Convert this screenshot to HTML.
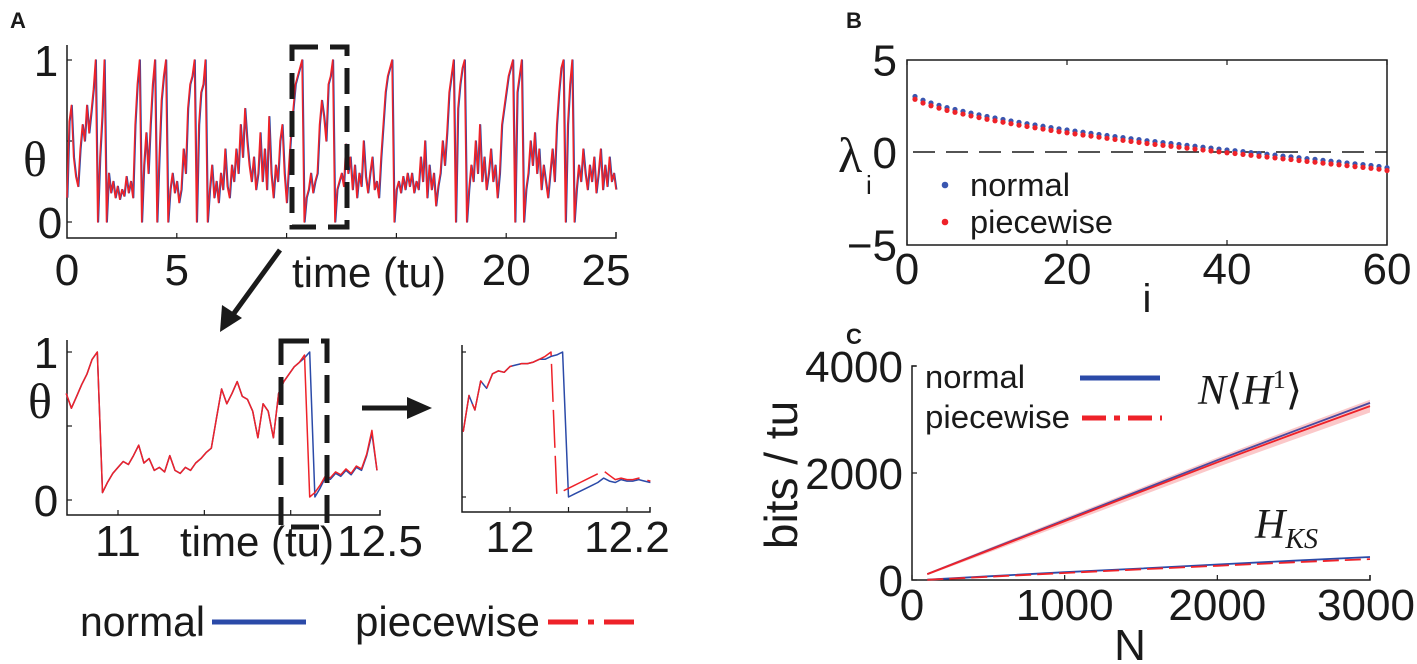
<!DOCTYPE html>
<html><head><meta charset="utf-8"><style>
html,body{margin:0;padding:0;background:#fff}
svg{display:block}
text{font-family:"Liberation Sans",sans-serif;fill:#1a1a1a}
.serif{font-family:"Liberation Serif",serif}
</style></head><body>
<svg id="fig" width="1417" height="664" viewBox="0 0 1417 664"></svg>
<script>
// ---------- DATA ----------
const thetaTop = [0.15,0.62,0.72,0.4,0.28,0.22,0.45,0.6,0.5,0.72,0.55,0.68,0.82,1.0,0.0,0.4,0.65,1.0,0.0,0.3,
0.18,0.25,0.15,0.22,0.14,0.2,0.16,0.28,0.18,0.25,0.15,0.6,0.85,1.0,0.0,0.35,0.55,0.3,0.6,0.85,
1.0,0.0,0.4,0.75,0.9,1.0,0.0,0.2,0.3,0.18,0.25,0.12,0.2,0.45,0.3,0.7,0.85,0.9,1.0,0.0,
0.6,0.8,0.85,1.0,0.0,0.2,0.35,0.15,0.25,0.12,0.3,0.2,0.45,0.22,0.15,0.35,0.25,0.45,0.3,0.6,
0.4,0.7,0.5,0.35,0.25,0.4,0.2,0.3,0.55,0.25,0.45,0.2,0.65,0.3,0.15,0.35,0.25,0.5,0.6,0.3,
0.12,0.35,0.55,0.7,0.85,0.9,0.95,1.0,0.0,0.15,0.2,0.3,0.18,0.25,0.3,0.6,0.75,0.65,0.5,0.85,
0.9,1.0,0.0,0.2,0.25,0.3,0.22,0.48,0.3,0.4,0.2,0.35,0.15,0.3,0.22,0.5,0.28,0.18,0.3,0.4,
0.2,0.25,0.15,0.4,0.6,0.8,0.9,0.95,1.0,0.0,0.2,0.25,0.18,0.28,0.2,0.3,0.22,0.3,0.18,0.25,
0.2,0.4,0.25,0.5,0.15,0.35,0.2,0.3,0.1,0.22,0.3,0.5,0.35,0.55,0.8,0.9,1.0,0.0,0.7,0.85,
0.95,1.0,0.0,0.2,0.35,0.25,0.5,0.3,0.6,0.25,0.4,0.2,0.3,0.45,0.25,0.35,0.15,0.3,0.6,0.7,
0.8,0.9,0.95,1.0,0.0,0.8,0.9,1.0,0.0,0.2,0.3,0.5,0.35,0.55,0.3,0.45,0.2,0.35,0.25,0.15,
0.3,0.45,0.25,0.6,0.8,0.95,1.0,0.0,0.6,0.85,1.0,0.0,0.2,0.35,0.25,0.45,0.3,0.2,0.35,0.25,
0.4,0.18,0.3,0.45,0.2,0.35,0.22,0.4,0.25,0.3,0.2];
const topT0 = 0, topDt = 0.1;

const zoomT0 = 10.70, zoomDt = 0.03;
const zoomBlue = [0.72,0.62,0.7,0.78,0.85,0.95,1.0,0.05,0.12,0.18,0.22,0.26,0.24,0.3,0.37,0.25,0.28,0.2,0.22,0.19,
0.3,0.2,0.18,0.22,0.2,0.25,0.28,0.32,0.35,0.55,0.75,0.65,0.72,0.8,0.7,0.68,0.6,0.42,0.65,0.6,
0.42,0.72,0.8,0.85,0.9,0.93,0.96,1.0,0.02,0.08,0.15,0.14,0.18,0.16,0.2,0.17,0.22,0.2,0.3,0.45,0.2];
const zoomRed = [0.72,0.62,0.7,0.78,0.85,0.95,1.0,0.05,0.12,0.18,0.22,0.26,0.24,0.3,0.37,0.25,0.28,0.2,0.22,0.19,
0.3,0.2,0.18,0.22,0.2,0.25,0.28,0.32,0.35,0.55,0.75,0.65,0.72,0.8,0.7,0.68,0.6,0.42,0.65,0.6,
0.42,0.72,0.8,0.85,0.9,0.93,0.98,0.02,0.05,0.1,0.16,0.15,0.19,0.17,0.21,0.18,0.23,0.21,0.31,0.47,0.2];

const insetT0 = 11.92, insetDt = 0.01;
const insetBlue = [0.45,0.7,0.6,0.8,0.75,0.85,0.87,0.86,0.9,0.91,0.92,0.92,0.93,0.95,0.95,0.97,0.98,1.0,0.0,0.02,
0.04,0.06,0.08,0.1,0.13,0.11,0.1,0.12,0.11,0.11,0.12,0.11,0.1];
const insetRed = [0.45,0.7,0.6,0.8,0.75,0.85,0.87,0.86,0.9,0.91,0.92,0.92,0.93,0.95,0.97,1.0,0.02,0.04,0.06,0.08,
0.1,0.12,0.14,0.16,0.18,0.15,0.12,0.13,0.12,0.12,0.13,0.12,0.11];

const lyapIdx = Array.from({length:60},(_,k)=>k+1);
const lyapNormal = [3.0,2.8,2.65,2.52,2.4,2.3,2.2,2.1,2.01,1.92,1.84,1.76,1.68,1.6,1.53,1.46,1.39,1.32,1.25,1.19,
1.13,1.07,1.01,0.95,0.89,0.83,0.78,0.72,0.67,0.61,0.56,0.51,0.46,0.41,0.36,0.31,0.26,0.21,0.16,0.11,
0.07,0.02,-0.03,-0.08,-0.12,-0.17,-0.22,-0.26,-0.31,-0.36,-0.4,-0.45,-0.5,-0.54,-0.59,-0.64,-0.68,-0.73,-0.78,-0.85];
const lyapPiece = [2.85,2.65,2.5,2.37,2.25,2.15,2.05,1.95,1.86,1.77,1.69,1.61,1.53,1.45,1.38,1.31,1.24,1.17,1.1,1.04,
0.98,0.92,0.86,0.8,0.74,0.68,0.63,0.57,0.52,0.46,0.41,0.36,0.31,0.26,0.21,0.16,0.11,0.06,0.01,-0.04,
-0.08,-0.13,-0.18,-0.23,-0.27,-0.32,-0.37,-0.41,-0.46,-0.51,-0.55,-0.6,-0.65,-0.69,-0.74,-0.79,-0.83,-0.88,-0.93,-1.0];

const Nvals = [100,500,1000,1500,2000,2500,3000];
const h1Normal = [110,560,1120,1680,2240,2780,3310];
const h1Piece = [110,550,1100,1650,2200,2730,3250];
const h1Err = [20,40,60,75,90,105,120];
const hksNormal = [5,70,145,215,290,360,430];
const hksPiece = [3,60,130,200,265,330,390];

const lyapTicksX = [0,20,40,60], lyapTicksY = [5,0,-5];
const cTicksX = [0,1000,2000,3000], cTicksY = [0,2000,4000];

// ---------- HELPERS ----------
const svg = document.getElementById('fig');
const NS = 'http://www.w3.org/2000/svg';
function el(tag, attrs, parent){
  const e = document.createElementNS(NS, tag);
  for (const k in attrs) e.setAttribute(k, attrs[k]);
  (parent||svg).appendChild(e);
  return e;
}
function txt(s, x, y, size, anchor, extra){
  const t = el('text', Object.assign({x:x, y:y, 'font-size':size, 'text-anchor':anchor||'middle'}, extra||{}));
  t.textContent = s;
  return t;
}
function fit(s, x1, x2, y, size, extra){
  return txt(s, x1, y, size, 'start', Object.assign({textLength:x2-x1, lengthAdjust:'spacingAndGlyphs'}, extra||{}));
}
function poly(xs, ys, stroke, w, dash){
  const pts = xs.map((x,i)=>x.toFixed(1)+','+ys[i].toFixed(1)).join(' ');
  const a = {points:pts, fill:'none', stroke:stroke, 'stroke-width':w, 'stroke-linejoin':'round'};
  if (dash) a['stroke-dasharray'] = dash;
  return el('polyline', a);
}
const BLUE = '#2b4aa8', RED = '#ee2229', INK = '#1a1a1a';
const TK = 44;

// ---------- PANEL A TOP ----------
txt('A', 10, 28, 22, 'start', {'font-weight':'bold'});
const ax = t => 67 + (t-0)*(616-67)/25;
const ay = v => 222 - v*162;
let l = el('path',{d:'M67,45 V238 H616 V232', fill:'none', stroke:INK, 'stroke-width':1.5});
 
[5,10,15,20].forEach(t=>{ el('line',{x1:ax(t),y1:238,x2:ax(t),y2:233,stroke:INK,'stroke-width':1.2}); });
el('line',{x1:67,y1:ay(1),x2:72,y2:ay(1),stroke:INK,'stroke-width':1.2});
el('line',{x1:67,y1:ay(0),x2:72,y2:ay(0),stroke:INK,'stroke-width':1.2});
el('line',{x1:67,y1:ay(0.5),x2:72,y2:ay(0.5),stroke:INK,'stroke-width':1.2});
txt('1', 46, ay(1)+16, TK); txt('0', 50, ay(0)+16, TK);
[[0,'0'],[5,'5'],[20,'20'],[25,'25']].forEach(([t,s])=>{ txt(s, ax(t)+(t===25?-10:0), 285, TK, 'middle'); });
txt('θ', 35, 176, 50, 'middle', {class:'serif'});
fit('time (tu)', 292, 446, 287, 42);
{
  const xs = thetaTop.map((v,i)=>ax(topT0+i*topDt)), ys = thetaTop.map(v=>ay(v));
  let p = poly(xs.map(x=>x+0.8), ys, BLUE, 1.3);  
  p = poly(xs, ys, RED, 1.5);  
}
l = el('rect',{x:292,y:47,width:55,height:180,fill:'none',stroke:INK,'stroke-width':5,'stroke-dasharray':'26,12'});
 
l = el('line',{x1:280,y1:250,x2:232,y2:316,stroke:INK,'stroke-width':5});
 
el('polygon',{points:'220,332 222,305 242,318',fill:INK});

// ---------- PANEL A BOTTOM-LEFT ----------
const bx = t => 118 + (t-11)*172.7;
const by = v => 500 - v*148;
l = el('path',{d:'M67,340 V515 H380 V510', fill:'none', stroke:INK, 'stroke-width':1.5});
 
[11,11.5,12].forEach(t=>el('line',{x1:bx(t),y1:515,x2:bx(t),y2:510,stroke:INK,'stroke-width':1.2}));
[1,0.5,0].forEach(v=>el('line',{x1:67,y1:by(v),x2:72,y2:by(v),stroke:INK,'stroke-width':1.2}));
txt('1', 46, by(1)+16, TK); txt('0', 46, by(0)+16, TK);
txt('11', bx(11), 556, TK); txt('12.5', 380, 556, TK);
txt('θ', 40, 418, 50, 'middle', {class:'serif'});
fit('time (tu)', 180, 334, 556, 42);
{
  const xs = zoomBlue.map((v,i)=>bx(zoomT0+i*zoomDt));
  let p = poly(xs, zoomBlue.map(by), BLUE, 1.5);  
  const xr = zoomRed.map((v,i)=>bx(zoomT0+i*zoomDt));
  p = poly(xr, zoomRed.map(by), RED, 1.5);  
}
l = el('rect',{x:281,y:341,width:46,height:186,fill:'none',stroke:INK,'stroke-width':5,'stroke-dasharray':'28,12'});
 
l = el('line',{x1:362,y1:408,x2:412,y2:408,stroke:INK,'stroke-width':5});
 
el('polygon',{points:'432,408 407,397 407,419',fill:INK});

// ---------- INSET ----------
const ix = t => 510 + (t-12)*585;
const iy = v => 497 - v*145;
l = el('path',{d:'M462,345 V512 H650 V507', fill:'none', stroke:INK, 'stroke-width':1.5});
 
[12,12.1,12.2].forEach(t=>el('line',{x1:ix(t),y1:512,x2:ix(t),y2:507,stroke:INK,'stroke-width':1.2}));
[1,0].forEach(v=>el('line',{x1:462,y1:iy(v),x2:466,y2:iy(v),stroke:INK,'stroke-width':1.2}));
txt('12', ix(12), 552, TK); txt('12.2', ix(12.2), 552, TK);
{
  let p = poly(insetBlue.map((v,i)=>ix(insetT0+i*insetDt)), insetBlue.map(iy), BLUE, 1.5);
   
  p = poly(insetRed.map((v,i)=>ix(insetT0+i*insetDt)), insetRed.map(iy), RED, 1.5, '38,8');
   
}

// ---------- LEGEND A ----------
let g = el('g',{});  
fit('normal', 80, 205, 636, 42);
el('line',{x1:212,y1:622,x2:306,y2:622,stroke:BLUE,'stroke-width':5},g);
fit('piecewise', 355, 540, 636, 42);
el('line',{x1:548,y1:622,x2:642,y2:622,stroke:RED,'stroke-width':5,'stroke-dasharray':'30,10,6,10'},g);

// ---------- PANEL B ----------
txt('B', 846, 28, 22, 'start', {'font-weight':'bold'});
const Bx = i => 907 + i*(1387-907)/60;
const By = v => 152 - v*18.5;
l = el('rect',{x:907,y:60,width:480,height:185,fill:'none',stroke:INK,'stroke-width':1.5});
 
lyapTicksX.forEach(t=>{ el('line',{x1:Bx(t),y1:245,x2:Bx(t),y2:240,stroke:INK,'stroke-width':1.2}); el('line',{x1:Bx(t),y1:60,x2:Bx(t),y2:65,stroke:INK,'stroke-width':1.2}); txt(String(t), Bx(t), 284, TK); });
lyapTicksY.forEach(v=>{ txt(v<0?'−'+(-v):String(v), 897, By(v)+16, TK, 'end'); });
l = el('line',{x1:913,y1:By(0),x2:1387,y2:By(0),stroke:INK,'stroke-width':1.5,'stroke-dasharray':'22,11'});
 
lyapIdx.forEach((i,k)=>{
  const c1 = el('circle',{cx:Bx(i),cy:By(lyapNormal[k]),r:2.6,fill:'#3a56b0'});
  
  
});
lyapIdx.forEach((i,k)=>{
  const c2 = el('circle',{cx:Bx(i),cy:By(lyapPiece[k]),r:2.6,fill:RED});
  
  
});
txt('λ', 838, 172, 50, 'start', {class:'serif'});
txt('i', 866, 194, 26, 'start');
txt('i', 1147, 312, 40);
g = el('g',{});  
el('circle',{cx:945,cy:185,r:3.3,fill:'#3a56b0'},g); fit('normal', 970, 1070, 196, 32);
el('circle',{cx:945,cy:222,r:3.3,fill:RED},g); fit('piecewise', 970, 1113, 233, 32);

// ---------- PANEL C ----------
txt('C', 846, 344, 22, 'start', {'font-weight':'bold'});
const Cx = n => 912 + n*(1370-912)/3000;
const Cy = v => 580 - v*(580-366)/4000;
l = el('path',{d:'M916,366 H912 V580 H1370 V575', fill:'none', stroke:INK, 'stroke-width':1.5});
 
cTicksX.forEach(t=>{ el('line',{x1:Cx(t),y1:580,x2:Cx(t),y2:575,stroke:INK,'stroke-width':1.2}); txt(String(t), Cx(t)+(t===3000?-4:0), 620, TK); });
cTicksY.forEach(v=>{ el('line',{x1:912,y1:Cy(v),x2:917,y2:Cy(v),stroke:INK,'stroke-width':1.2}); txt(String(v), 903, Cy(v)+16, TK, 'end'); });
txt('N', 1130, 660, TK);
const yt = txt('bits / tu', 0, 0, 46, 'middle', {transform:'translate(797 475) rotate(-90)'});

{
  const up = Nvals.map((n,i)=>Cx(n)+','+Cy(h1Piece[i]+h1Err[i]).toFixed(1));
  const dn = Nvals.map((n,i)=>Cx(n)+','+Cy(h1Piece[i]-h1Err[i]).toFixed(1)).reverse();
  l = el('polygon',{points:up.concat(dn).join(' '),fill:'rgba(238,34,41,0.25)'});
   
  let p = poly(Nvals.map(Cx), h1Normal.map(Cy), '#4a4aa0', 1.8);  
  p = poly(Nvals.map(Cx), h1Piece.map(Cy), RED, 1.8);  
  p = poly(Nvals.map(Cx), hksNormal.map(Cy), BLUE, 1.8);  
  p = poly(Nvals.map(Cx), hksPiece.map(Cy), RED, 1.8, '16,6');  
}
g = el('g',{});  
fit('normal', 925, 1025, 388, 32);
el('line',{x1:1080,y1:378,x2:1160,y2:378,stroke:BLUE,'stroke-width':5},g);
fit('piecewise', 925, 1070, 428, 32);
el('line',{x1:1082,y1:418,x2:1162,y2:418,stroke:RED,'stroke-width':5,'stroke-dasharray':'24,8,6,8'},g);
const ann1 = txt('', 1198, 404, 42, 'start', {class:'serif','font-style':'italic'});

ann1.innerHTML = 'N<tspan font-style="normal">⟨</tspan>H<tspan dy="-16" font-size="26" font-style="normal">1</tspan><tspan dy="16" font-style="normal">⟩</tspan>';
const ann2 = txt('', 1255, 538, 42, 'start', {class:'serif','font-style':'italic'});

ann2.innerHTML = 'H<tspan dy="10" font-size="28">KS</tspan>';
</script>
</body></html>
